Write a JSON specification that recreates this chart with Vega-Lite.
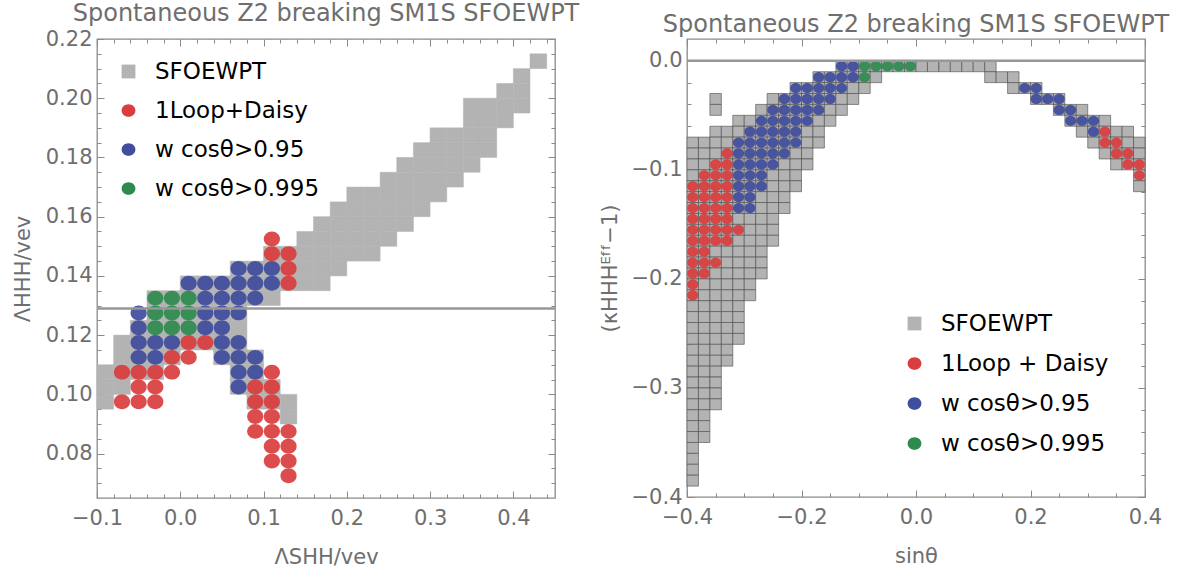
{
"$schema":"https://vega.github.io/schema/vega-lite/v6.json",
"background":"white",
"padding":{"left":11,"top":1,"right":5,"bottom":2},
"spacing":18,
"config":{
 "font":"DejaVu Sans",
 "view":{"stroke":"#8a8a8a","strokeWidth":1.3},
 "axis":{"grid":false,"domain":false,"tickColor":"#8a8a8a","tickWidth":1,"labelFont":"DejaVu Sans","labelFontSize":21,"labelColor":"#6e6e6e","titleFont":"DejaVu Sans","titleFontSize":21,"titleColor":"#6e6e6e","titleFontWeight":"normal","labelFlush":false,"labelOverlap":false},
 "title":{"font":"DejaVu Sans","fontSize":24,"fontWeight":"normal","color":"#6e6e6e","anchor":"middle","frame":"group","offset":2,"baseline":"alphabetic"}
},
"resolve":{"scale":{"x":"independent","y":"independent","color":"independent","shape":"independent"},"legend":{"color":"independent","shape":"independent"}},
"datasets":{
"lcells":[
{"x":-0.09,"y":0.0975},{"x":-0.09,"y":0.1025},{"x":-0.09,"y":0.1075},
{"x":-0.07,"y":0.1025},{"x":-0.07,"y":0.1075},{"x":-0.07,"y":0.1125},{"x":-0.07,"y":0.1175},
{"x":-0.05,"y":0.1075},{"x":-0.05,"y":0.1125},{"x":-0.05,"y":0.1175},{"x":-0.05,"y":0.1225},
{"x":-0.03,"y":0.1075},{"x":-0.03,"y":0.1125},{"x":-0.03,"y":0.1175},{"x":-0.03,"y":0.1225},{"x":-0.03,"y":0.1275},{"x":-0.03,"y":0.1325},
{"x":-0.01,"y":0.1125},{"x":-0.01,"y":0.1175},{"x":-0.01,"y":0.1225},{"x":-0.01,"y":0.1275},{"x":-0.01,"y":0.1325},
{"x":0.01,"y":0.1175},{"x":0.01,"y":0.1225},{"x":0.01,"y":0.1275},{"x":0.01,"y":0.1325},{"x":0.01,"y":0.1375},
{"x":0.03,"y":0.1175},{"x":0.03,"y":0.1225},{"x":0.03,"y":0.1275},{"x":0.03,"y":0.1325},{"x":0.03,"y":0.1375},
{"x":0.05,"y":0.1125},{"x":0.05,"y":0.1175},{"x":0.05,"y":0.1225},{"x":0.05,"y":0.1275},{"x":0.05,"y":0.1325},{"x":0.05,"y":0.1375},
{"x":0.07,"y":0.1025},{"x":0.07,"y":0.1075},{"x":0.07,"y":0.1125},{"x":0.07,"y":0.1175},{"x":0.07,"y":0.1225},{"x":0.07,"y":0.1275},{"x":0.07,"y":0.1325},{"x":0.07,"y":0.1375},{"x":0.07,"y":0.1425},
{"x":0.09,"y":0.0975},{"x":0.09,"y":0.1025},{"x":0.09,"y":0.1075},{"x":0.09,"y":0.1125},{"x":0.09,"y":0.1325},{"x":0.09,"y":0.1375},{"x":0.09,"y":0.1425},
{"x":0.11,"y":0.0975},{"x":0.11,"y":0.1025},{"x":0.11,"y":0.1325},{"x":0.11,"y":0.1375},{"x":0.11,"y":0.1425},{"x":0.11,"y":0.1475},
{"x":0.13,"y":0.0925},{"x":0.13,"y":0.0975},{"x":0.13,"y":0.1375},{"x":0.13,"y":0.1425},{"x":0.13,"y":0.1475},
{"x":0.15,"y":0.1375},{"x":0.15,"y":0.1425},{"x":0.15,"y":0.1475},{"x":0.15,"y":0.1525},
{"x":0.17,"y":0.1375},{"x":0.17,"y":0.1425},{"x":0.17,"y":0.1475},{"x":0.17,"y":0.1525},{"x":0.17,"y":0.1575},
{"x":0.19,"y":0.1425},{"x":0.19,"y":0.1475},{"x":0.19,"y":0.1525},{"x":0.19,"y":0.1575},{"x":0.19,"y":0.1625},
{"x":0.21,"y":0.1475},{"x":0.21,"y":0.1525},{"x":0.21,"y":0.1575},{"x":0.21,"y":0.1625},{"x":0.21,"y":0.1675},
{"x":0.23,"y":0.1475},{"x":0.23,"y":0.1525},{"x":0.23,"y":0.1575},{"x":0.23,"y":0.1625},{"x":0.23,"y":0.1675},
{"x":0.25,"y":0.1525},{"x":0.25,"y":0.1575},{"x":0.25,"y":0.1625},{"x":0.25,"y":0.1675},{"x":0.25,"y":0.1725},
{"x":0.27,"y":0.1575},{"x":0.27,"y":0.1625},{"x":0.27,"y":0.1675},{"x":0.27,"y":0.1725},{"x":0.27,"y":0.1775},
{"x":0.29,"y":0.1625},{"x":0.29,"y":0.1675},{"x":0.29,"y":0.1725},{"x":0.29,"y":0.1775},{"x":0.29,"y":0.1825},
{"x":0.31,"y":0.1675},{"x":0.31,"y":0.1725},{"x":0.31,"y":0.1775},{"x":0.31,"y":0.1825},{"x":0.31,"y":0.1875},
{"x":0.33,"y":0.1725},{"x":0.33,"y":0.1775},{"x":0.33,"y":0.1825},{"x":0.33,"y":0.1875},
{"x":0.35,"y":0.1775},{"x":0.35,"y":0.1825},{"x":0.35,"y":0.1875},{"x":0.35,"y":0.1925},{"x":0.35,"y":0.1975},
{"x":0.37,"y":0.1825},{"x":0.37,"y":0.1875},{"x":0.37,"y":0.1925},{"x":0.37,"y":0.1975},
{"x":0.39,"y":0.1925},{"x":0.39,"y":0.1975},{"x":0.39,"y":0.2025},
{"x":0.41,"y":0.1975},{"x":0.41,"y":0.2025},{"x":0.41,"y":0.2075},
{"x":0.43,"y":0.2125}
],
"lpts":[
{"x":0.11,"y":0.1525,"s":"1Loop+Daisy"},{"x":0.11,"y":0.1475,"s":"1Loop+Daisy"},{"x":0.13,"y":0.1475,"s":"1Loop+Daisy"},{"x":0.13,"y":0.1425,"s":"1Loop+Daisy"},{"x":0.13,"y":0.1375,"s":"1Loop+Daisy"},
{"x":0.01,"y":0.1175,"s":"1Loop+Daisy"},{"x":0.03,"y":0.1175,"s":"1Loop+Daisy"},{"x":-0.01,"y":0.1125,"s":"1Loop+Daisy"},{"x":0.01,"y":0.1125,"s":"1Loop+Daisy"},
{"x":-0.07,"y":0.1075,"s":"1Loop+Daisy"},{"x":-0.05,"y":0.1075,"s":"1Loop+Daisy"},{"x":-0.03,"y":0.1075,"s":"1Loop+Daisy"},{"x":-0.01,"y":0.1075,"s":"1Loop+Daisy"},{"x":0.11,"y":0.1075,"s":"1Loop+Daisy"},
{"x":-0.05,"y":0.1025,"s":"1Loop+Daisy"},{"x":-0.03,"y":0.1025,"s":"1Loop+Daisy"},{"x":0.09,"y":0.1025,"s":"1Loop+Daisy"},{"x":0.11,"y":0.1025,"s":"1Loop+Daisy"},
{"x":-0.07,"y":0.0975,"s":"1Loop+Daisy"},{"x":-0.05,"y":0.0975,"s":"1Loop+Daisy"},{"x":-0.03,"y":0.0975,"s":"1Loop+Daisy"},{"x":0.09,"y":0.0975,"s":"1Loop+Daisy"},{"x":0.11,"y":0.0975,"s":"1Loop+Daisy"},
{"x":0.09,"y":0.0925,"s":"1Loop+Daisy"},{"x":0.11,"y":0.0925,"s":"1Loop+Daisy"},
{"x":0.09,"y":0.0875,"s":"1Loop+Daisy"},{"x":0.11,"y":0.0875,"s":"1Loop+Daisy"},{"x":0.13,"y":0.0875,"s":"1Loop+Daisy"},
{"x":0.11,"y":0.0825,"s":"1Loop+Daisy"},{"x":0.13,"y":0.0825,"s":"1Loop+Daisy"},{"x":0.11,"y":0.0775,"s":"1Loop+Daisy"},{"x":0.13,"y":0.0775,"s":"1Loop+Daisy"},{"x":0.13,"y":0.0725,"s":"1Loop+Daisy"},
{"x":0.07,"y":0.1425,"s":"w cosθ>0.95"},{"x":0.09,"y":0.1425,"s":"w cosθ>0.95"},{"x":0.11,"y":0.1425,"s":"w cosθ>0.95"},
{"x":0.01,"y":0.1375,"s":"w cosθ>0.95"},{"x":0.03,"y":0.1375,"s":"w cosθ>0.95"},{"x":0.05,"y":0.1375,"s":"w cosθ>0.95"},{"x":0.07,"y":0.1375,"s":"w cosθ>0.95"},{"x":0.09,"y":0.1375,"s":"w cosθ>0.95"},{"x":0.11,"y":0.1375,"s":"w cosθ>0.95"},
{"x":0.03,"y":0.1325,"s":"w cosθ>0.95"},{"x":0.05,"y":0.1325,"s":"w cosθ>0.95"},{"x":0.07,"y":0.1325,"s":"w cosθ>0.95"},{"x":0.09,"y":0.1325,"s":"w cosθ>0.95"},
{"x":-0.05,"y":0.1275,"s":"w cosθ>0.95"},{"x":0.03,"y":0.1275,"s":"w cosθ>0.95"},{"x":0.05,"y":0.1275,"s":"w cosθ>0.95"},{"x":0.07,"y":0.1275,"s":"w cosθ>0.95"},
{"x":-0.05,"y":0.1225,"s":"w cosθ>0.95"},{"x":0.03,"y":0.1225,"s":"w cosθ>0.95"},{"x":0.05,"y":0.1225,"s":"w cosθ>0.95"},
{"x":-0.05,"y":0.1175,"s":"w cosθ>0.95"},{"x":-0.03,"y":0.1175,"s":"w cosθ>0.95"},{"x":-0.01,"y":0.1175,"s":"w cosθ>0.95"},{"x":0.05,"y":0.1175,"s":"w cosθ>0.95"},{"x":0.07,"y":0.1175,"s":"w cosθ>0.95"},
{"x":-0.05,"y":0.1125,"s":"w cosθ>0.95"},{"x":-0.03,"y":0.1125,"s":"w cosθ>0.95"},{"x":0.05,"y":0.1125,"s":"w cosθ>0.95"},{"x":0.07,"y":0.1125,"s":"w cosθ>0.95"},{"x":0.09,"y":0.1125,"s":"w cosθ>0.95"},
{"x":0.07,"y":0.1075,"s":"w cosθ>0.95"},{"x":0.09,"y":0.1075,"s":"w cosθ>0.95"},{"x":0.07,"y":0.1025,"s":"w cosθ>0.95"},
{"x":-0.03,"y":0.1325,"s":"w cosθ>0.995"},{"x":-0.01,"y":0.1325,"s":"w cosθ>0.995"},{"x":0.01,"y":0.1325,"s":"w cosθ>0.995"},
{"x":-0.03,"y":0.1275,"s":"w cosθ>0.995"},{"x":-0.01,"y":0.1275,"s":"w cosθ>0.995"},{"x":0.01,"y":0.1275,"s":"w cosθ>0.995"},
{"x":-0.03,"y":0.1225,"s":"w cosθ>0.995"},{"x":-0.01,"y":0.1225,"s":"w cosθ>0.995"},{"x":0.01,"y":0.1225,"s":"w cosθ>0.995"}
],
"rcells":[
{"x":-0.39,"y":-0.075},{"x":-0.39,"y":-0.085},{"x":-0.39,"y":-0.095},{"x":-0.39,"y":-0.105},{"x":-0.39,"y":-0.115},{"x":-0.39,"y":-0.125},{"x":-0.39,"y":-0.135},{"x":-0.39,"y":-0.145},{"x":-0.39,"y":-0.155},{"x":-0.39,"y":-0.165},{"x":-0.39,"y":-0.175},{"x":-0.39,"y":-0.185},{"x":-0.39,"y":-0.195},{"x":-0.39,"y":-0.205},{"x":-0.39,"y":-0.215},{"x":-0.39,"y":-0.225},{"x":-0.39,"y":-0.235},{"x":-0.39,"y":-0.245},{"x":-0.39,"y":-0.255},{"x":-0.39,"y":-0.265},{"x":-0.39,"y":-0.275},{"x":-0.39,"y":-0.285},{"x":-0.39,"y":-0.295},{"x":-0.39,"y":-0.305},{"x":-0.39,"y":-0.315},{"x":-0.39,"y":-0.325},{"x":-0.39,"y":-0.335},{"x":-0.39,"y":-0.345},{"x":-0.39,"y":-0.355},{"x":-0.39,"y":-0.365},{"x":-0.39,"y":-0.375},{"x":-0.39,"y":-0.385},
{"x":-0.37,"y":-0.075},{"x":-0.37,"y":-0.085},{"x":-0.37,"y":-0.095},{"x":-0.37,"y":-0.105},{"x":-0.37,"y":-0.115},{"x":-0.37,"y":-0.125},{"x":-0.37,"y":-0.135},{"x":-0.37,"y":-0.145},{"x":-0.37,"y":-0.155},{"x":-0.37,"y":-0.165},{"x":-0.37,"y":-0.175},{"x":-0.37,"y":-0.185},{"x":-0.37,"y":-0.195},{"x":-0.37,"y":-0.205},{"x":-0.37,"y":-0.215},{"x":-0.37,"y":-0.225},{"x":-0.37,"y":-0.235},{"x":-0.37,"y":-0.245},{"x":-0.37,"y":-0.255},{"x":-0.37,"y":-0.265},{"x":-0.37,"y":-0.275},{"x":-0.37,"y":-0.285},{"x":-0.37,"y":-0.295},{"x":-0.37,"y":-0.305},{"x":-0.37,"y":-0.315},{"x":-0.37,"y":-0.325},{"x":-0.37,"y":-0.335},{"x":-0.37,"y":-0.345},
{"x":-0.35,"y":-0.035},{"x":-0.35,"y":-0.045},{"x":-0.35,"y":-0.065},{"x":-0.35,"y":-0.075},{"x":-0.35,"y":-0.085},{"x":-0.35,"y":-0.095},{"x":-0.35,"y":-0.105},{"x":-0.35,"y":-0.115},{"x":-0.35,"y":-0.125},{"x":-0.35,"y":-0.135},{"x":-0.35,"y":-0.145},{"x":-0.35,"y":-0.155},{"x":-0.35,"y":-0.165},{"x":-0.35,"y":-0.175},{"x":-0.35,"y":-0.185},{"x":-0.35,"y":-0.195},{"x":-0.35,"y":-0.205},{"x":-0.35,"y":-0.215},{"x":-0.35,"y":-0.225},{"x":-0.35,"y":-0.235},{"x":-0.35,"y":-0.245},{"x":-0.35,"y":-0.255},{"x":-0.35,"y":-0.265},{"x":-0.35,"y":-0.275},{"x":-0.35,"y":-0.285},{"x":-0.35,"y":-0.295},{"x":-0.35,"y":-0.305},{"x":-0.35,"y":-0.315},
{"x":-0.33,"y":-0.065},{"x":-0.33,"y":-0.075},{"x":-0.33,"y":-0.085},{"x":-0.33,"y":-0.095},{"x":-0.33,"y":-0.105},{"x":-0.33,"y":-0.115},{"x":-0.33,"y":-0.125},{"x":-0.33,"y":-0.135},{"x":-0.33,"y":-0.145},{"x":-0.33,"y":-0.155},{"x":-0.33,"y":-0.165},{"x":-0.33,"y":-0.175},{"x":-0.33,"y":-0.185},{"x":-0.33,"y":-0.195},{"x":-0.33,"y":-0.205},{"x":-0.33,"y":-0.215},{"x":-0.33,"y":-0.225},{"x":-0.33,"y":-0.235},{"x":-0.33,"y":-0.245},{"x":-0.33,"y":-0.255},{"x":-0.33,"y":-0.265},{"x":-0.33,"y":-0.275},
{"x":-0.31,"y":-0.055},{"x":-0.31,"y":-0.065},{"x":-0.31,"y":-0.075},{"x":-0.31,"y":-0.085},{"x":-0.31,"y":-0.095},{"x":-0.31,"y":-0.105},{"x":-0.31,"y":-0.115},{"x":-0.31,"y":-0.125},{"x":-0.31,"y":-0.135},{"x":-0.31,"y":-0.145},{"x":-0.31,"y":-0.155},{"x":-0.31,"y":-0.165},{"x":-0.31,"y":-0.175},{"x":-0.31,"y":-0.185},{"x":-0.31,"y":-0.195},{"x":-0.31,"y":-0.205},{"x":-0.31,"y":-0.215},{"x":-0.31,"y":-0.225},{"x":-0.31,"y":-0.235},{"x":-0.31,"y":-0.245},{"x":-0.31,"y":-0.255},
{"x":-0.29,"y":-0.055},{"x":-0.29,"y":-0.065},{"x":-0.29,"y":-0.075},{"x":-0.29,"y":-0.085},{"x":-0.29,"y":-0.095},{"x":-0.29,"y":-0.105},{"x":-0.29,"y":-0.115},{"x":-0.29,"y":-0.125},{"x":-0.29,"y":-0.135},{"x":-0.29,"y":-0.145},{"x":-0.29,"y":-0.155},{"x":-0.29,"y":-0.165},{"x":-0.29,"y":-0.175},{"x":-0.29,"y":-0.185},{"x":-0.29,"y":-0.195},{"x":-0.29,"y":-0.205},{"x":-0.29,"y":-0.215},
{"x":-0.27,"y":-0.045},{"x":-0.27,"y":-0.055},{"x":-0.27,"y":-0.065},{"x":-0.27,"y":-0.075},{"x":-0.27,"y":-0.085},{"x":-0.27,"y":-0.095},{"x":-0.27,"y":-0.105},{"x":-0.27,"y":-0.115},{"x":-0.27,"y":-0.125},{"x":-0.27,"y":-0.135},{"x":-0.27,"y":-0.145},{"x":-0.27,"y":-0.155},{"x":-0.27,"y":-0.165},{"x":-0.27,"y":-0.175},{"x":-0.27,"y":-0.185},{"x":-0.27,"y":-0.195},
{"x":-0.25,"y":-0.035},{"x":-0.25,"y":-0.045},{"x":-0.25,"y":-0.055},{"x":-0.25,"y":-0.065},{"x":-0.25,"y":-0.075},{"x":-0.25,"y":-0.085},{"x":-0.25,"y":-0.095},{"x":-0.25,"y":-0.105},{"x":-0.25,"y":-0.115},{"x":-0.25,"y":-0.125},{"x":-0.25,"y":-0.135},{"x":-0.25,"y":-0.145},{"x":-0.25,"y":-0.155},{"x":-0.25,"y":-0.165},
{"x":-0.23,"y":-0.035},{"x":-0.23,"y":-0.045},{"x":-0.23,"y":-0.055},{"x":-0.23,"y":-0.065},{"x":-0.23,"y":-0.075},{"x":-0.23,"y":-0.085},{"x":-0.23,"y":-0.095},{"x":-0.23,"y":-0.105},{"x":-0.23,"y":-0.115},{"x":-0.23,"y":-0.125},{"x":-0.23,"y":-0.135},
{"x":-0.21,"y":-0.025},{"x":-0.21,"y":-0.035},{"x":-0.21,"y":-0.045},{"x":-0.21,"y":-0.055},{"x":-0.21,"y":-0.065},{"x":-0.21,"y":-0.075},{"x":-0.21,"y":-0.085},{"x":-0.21,"y":-0.095},{"x":-0.21,"y":-0.105},{"x":-0.21,"y":-0.115},
{"x":-0.19,"y":-0.025},{"x":-0.19,"y":-0.035},{"x":-0.19,"y":-0.045},{"x":-0.19,"y":-0.055},{"x":-0.19,"y":-0.065},{"x":-0.19,"y":-0.075},{"x":-0.19,"y":-0.085},{"x":-0.19,"y":-0.095},
{"x":-0.17,"y":-0.015},{"x":-0.17,"y":-0.025},{"x":-0.17,"y":-0.035},{"x":-0.17,"y":-0.045},{"x":-0.17,"y":-0.055},{"x":-0.17,"y":-0.065},{"x":-0.17,"y":-0.075},
{"x":-0.15,"y":-0.015},{"x":-0.15,"y":-0.025},{"x":-0.15,"y":-0.035},{"x":-0.15,"y":-0.045},{"x":-0.15,"y":-0.055},
{"x":-0.13,"y":-0.005},{"x":-0.13,"y":-0.015},{"x":-0.13,"y":-0.025},{"x":-0.13,"y":-0.035},{"x":-0.13,"y":-0.045},
{"x":-0.11,"y":-0.005},{"x":-0.11,"y":-0.015},{"x":-0.11,"y":-0.025},{"x":-0.11,"y":-0.035},
{"x":-0.09,"y":-0.005},{"x":-0.09,"y":-0.015},{"x":-0.09,"y":-0.025},
{"x":-0.07,"y":-0.005},{"x":-0.07,"y":-0.015},
{"x":-0.05,"y":-0.005},{"x":-0.03,"y":-0.005},{"x":-0.01,"y":-0.005},{"x":0.01,"y":-0.005},{"x":0.03,"y":-0.005},{"x":0.05,"y":-0.005},{"x":0.07,"y":-0.005},{"x":0.09,"y":-0.005},{"x":0.11,"y":-0.005},
{"x":0.13,"y":-0.005},{"x":0.13,"y":-0.015},
{"x":0.15,"y":-0.015},
{"x":0.17,"y":-0.015},{"x":0.17,"y":-0.025},
{"x":0.19,"y":-0.025},
{"x":0.21,"y":-0.025},{"x":0.21,"y":-0.035},
{"x":0.23,"y":-0.035},
{"x":0.25,"y":-0.035},{"x":0.25,"y":-0.045},
{"x":0.27,"y":-0.045},{"x":0.27,"y":-0.055},
{"x":0.29,"y":-0.045},{"x":0.29,"y":-0.055},{"x":0.29,"y":-0.065},
{"x":0.31,"y":-0.055},{"x":0.31,"y":-0.065},{"x":0.31,"y":-0.075},
{"x":0.33,"y":-0.055},{"x":0.33,"y":-0.065},{"x":0.33,"y":-0.075},{"x":0.33,"y":-0.085},
{"x":0.35,"y":-0.065},{"x":0.35,"y":-0.075},{"x":0.35,"y":-0.085},{"x":0.35,"y":-0.095},
{"x":0.37,"y":-0.065},{"x":0.37,"y":-0.075},{"x":0.37,"y":-0.085},{"x":0.37,"y":-0.095},
{"x":0.39,"y":-0.075},{"x":0.39,"y":-0.085},{"x":0.39,"y":-0.095},{"x":0.39,"y":-0.105},{"x":0.39,"y":-0.115}
],
"rpts":[
{"x":-0.33,"y":-0.085,"s":"1Loop + Daisy"},
{"x":-0.35,"y":-0.095,"s":"1Loop + Daisy"},{"x":-0.33,"y":-0.095,"s":"1Loop + Daisy"},
{"x":-0.37,"y":-0.105,"s":"1Loop + Daisy"},{"x":-0.35,"y":-0.105,"s":"1Loop + Daisy"},{"x":-0.33,"y":-0.105,"s":"1Loop + Daisy"},
{"x":-0.39,"y":-0.115,"s":"1Loop + Daisy"},{"x":-0.37,"y":-0.115,"s":"1Loop + Daisy"},{"x":-0.35,"y":-0.115,"s":"1Loop + Daisy"},{"x":-0.33,"y":-0.115,"s":"1Loop + Daisy"},
{"x":-0.39,"y":-0.125,"s":"1Loop + Daisy"},{"x":-0.37,"y":-0.125,"s":"1Loop + Daisy"},{"x":-0.35,"y":-0.125,"s":"1Loop + Daisy"},{"x":-0.33,"y":-0.125,"s":"1Loop + Daisy"},
{"x":-0.39,"y":-0.135,"s":"1Loop + Daisy"},{"x":-0.37,"y":-0.135,"s":"1Loop + Daisy"},{"x":-0.35,"y":-0.135,"s":"1Loop + Daisy"},{"x":-0.33,"y":-0.135,"s":"1Loop + Daisy"},
{"x":-0.39,"y":-0.145,"s":"1Loop + Daisy"},{"x":-0.37,"y":-0.145,"s":"1Loop + Daisy"},{"x":-0.35,"y":-0.145,"s":"1Loop + Daisy"},{"x":-0.33,"y":-0.145,"s":"1Loop + Daisy"},
{"x":-0.39,"y":-0.155,"s":"1Loop + Daisy"},{"x":-0.37,"y":-0.155,"s":"1Loop + Daisy"},{"x":-0.35,"y":-0.155,"s":"1Loop + Daisy"},{"x":-0.33,"y":-0.155,"s":"1Loop + Daisy"},{"x":-0.31,"y":-0.155,"s":"1Loop + Daisy"},
{"x":-0.39,"y":-0.165,"s":"1Loop + Daisy"},{"x":-0.37,"y":-0.165,"s":"1Loop + Daisy"},{"x":-0.35,"y":-0.165,"s":"1Loop + Daisy"},{"x":-0.33,"y":-0.165,"s":"1Loop + Daisy"},
{"x":-0.39,"y":-0.175,"s":"1Loop + Daisy"},{"x":-0.37,"y":-0.175,"s":"1Loop + Daisy"},
{"x":-0.39,"y":-0.185,"s":"1Loop + Daisy"},{"x":-0.37,"y":-0.185,"s":"1Loop + Daisy"},{"x":-0.35,"y":-0.185,"s":"1Loop + Daisy"},
{"x":-0.39,"y":-0.195,"s":"1Loop + Daisy"},{"x":-0.37,"y":-0.195,"s":"1Loop + Daisy"},
{"x":-0.39,"y":-0.205,"s":"1Loop + Daisy"},{"x":-0.39,"y":-0.215,"s":"1Loop + Daisy"},
{"x":0.33,"y":-0.065,"s":"1Loop + Daisy"},{"x":0.33,"y":-0.075,"s":"1Loop + Daisy"},{"x":0.35,"y":-0.075,"s":"1Loop + Daisy"},{"x":0.35,"y":-0.085,"s":"1Loop + Daisy"},{"x":0.37,"y":-0.085,"s":"1Loop + Daisy"},{"x":0.37,"y":-0.095,"s":"1Loop + Daisy"},{"x":0.39,"y":-0.095,"s":"1Loop + Daisy"},{"x":0.39,"y":-0.105,"s":"1Loop + Daisy"},
{"x":-0.13,"y":-0.005,"s":"w cosθ>0.95"},{"x":-0.11,"y":-0.005,"s":"w cosθ>0.95"},
{"x":-0.17,"y":-0.015,"s":"w cosθ>0.95"},{"x":-0.15,"y":-0.015,"s":"w cosθ>0.95"},{"x":-0.13,"y":-0.015,"s":"w cosθ>0.95"},{"x":-0.11,"y":-0.015,"s":"w cosθ>0.95"},
{"x":-0.21,"y":-0.025,"s":"w cosθ>0.95"},{"x":-0.19,"y":-0.025,"s":"w cosθ>0.95"},{"x":-0.17,"y":-0.025,"s":"w cosθ>0.95"},{"x":-0.15,"y":-0.025,"s":"w cosθ>0.95"},{"x":-0.13,"y":-0.025,"s":"w cosθ>0.95"},
{"x":-0.23,"y":-0.035,"s":"w cosθ>0.95"},{"x":-0.21,"y":-0.035,"s":"w cosθ>0.95"},{"x":-0.19,"y":-0.035,"s":"w cosθ>0.95"},{"x":-0.17,"y":-0.035,"s":"w cosθ>0.95"},{"x":-0.15,"y":-0.035,"s":"w cosθ>0.95"},
{"x":-0.25,"y":-0.045,"s":"w cosθ>0.95"},{"x":-0.23,"y":-0.045,"s":"w cosθ>0.95"},{"x":-0.21,"y":-0.045,"s":"w cosθ>0.95"},{"x":-0.19,"y":-0.045,"s":"w cosθ>0.95"},{"x":-0.17,"y":-0.045,"s":"w cosθ>0.95"},
{"x":-0.27,"y":-0.055,"s":"w cosθ>0.95"},{"x":-0.25,"y":-0.055,"s":"w cosθ>0.95"},{"x":-0.23,"y":-0.055,"s":"w cosθ>0.95"},{"x":-0.21,"y":-0.055,"s":"w cosθ>0.95"},{"x":-0.19,"y":-0.055,"s":"w cosθ>0.95"},
{"x":-0.29,"y":-0.065,"s":"w cosθ>0.95"},{"x":-0.27,"y":-0.065,"s":"w cosθ>0.95"},{"x":-0.25,"y":-0.065,"s":"w cosθ>0.95"},{"x":-0.23,"y":-0.065,"s":"w cosθ>0.95"},{"x":-0.21,"y":-0.065,"s":"w cosθ>0.95"},
{"x":-0.31,"y":-0.075,"s":"w cosθ>0.95"},{"x":-0.29,"y":-0.075,"s":"w cosθ>0.95"},{"x":-0.27,"y":-0.075,"s":"w cosθ>0.95"},{"x":-0.25,"y":-0.075,"s":"w cosθ>0.95"},{"x":-0.23,"y":-0.075,"s":"w cosθ>0.95"},{"x":-0.21,"y":-0.075,"s":"w cosθ>0.95"},
{"x":-0.31,"y":-0.085,"s":"w cosθ>0.95"},{"x":-0.29,"y":-0.085,"s":"w cosθ>0.95"},{"x":-0.27,"y":-0.085,"s":"w cosθ>0.95"},{"x":-0.25,"y":-0.085,"s":"w cosθ>0.95"},{"x":-0.23,"y":-0.085,"s":"w cosθ>0.95"},
{"x":-0.31,"y":-0.095,"s":"w cosθ>0.95"},{"x":-0.29,"y":-0.095,"s":"w cosθ>0.95"},{"x":-0.27,"y":-0.095,"s":"w cosθ>0.95"},{"x":-0.25,"y":-0.095,"s":"w cosθ>0.95"},
{"x":-0.31,"y":-0.105,"s":"w cosθ>0.95"},{"x":-0.29,"y":-0.105,"s":"w cosθ>0.95"},{"x":-0.27,"y":-0.105,"s":"w cosθ>0.95"},
{"x":-0.31,"y":-0.115,"s":"w cosθ>0.95"},{"x":-0.29,"y":-0.115,"s":"w cosθ>0.95"},{"x":-0.27,"y":-0.115,"s":"w cosθ>0.95"},
{"x":-0.31,"y":-0.125,"s":"w cosθ>0.95"},{"x":-0.29,"y":-0.125,"s":"w cosθ>0.95"},
{"x":-0.31,"y":-0.135,"s":"w cosθ>0.95"},{"x":-0.29,"y":-0.135,"s":"w cosθ>0.95"},
{"x":0.19,"y":-0.025,"s":"w cosθ>0.95"},{"x":0.21,"y":-0.025,"s":"w cosθ>0.95"},
{"x":0.21,"y":-0.035,"s":"w cosθ>0.95"},{"x":0.23,"y":-0.035,"s":"w cosθ>0.95"},{"x":0.25,"y":-0.035,"s":"w cosθ>0.95"},
{"x":0.25,"y":-0.045,"s":"w cosθ>0.95"},{"x":0.27,"y":-0.045,"s":"w cosθ>0.95"},
{"x":0.27,"y":-0.055,"s":"w cosθ>0.95"},{"x":0.29,"y":-0.055,"s":"w cosθ>0.95"},{"x":0.31,"y":-0.055,"s":"w cosθ>0.95"},
{"x":0.31,"y":-0.065,"s":"w cosθ>0.95"},
{"x":-0.09,"y":-0.005,"s":"w cosθ>0.995"},{"x":-0.07,"y":-0.005,"s":"w cosθ>0.995"},{"x":-0.05,"y":-0.005,"s":"w cosθ>0.995"},{"x":-0.03,"y":-0.005,"s":"w cosθ>0.995"},{"x":-0.01,"y":-0.005,"s":"w cosθ>0.995"},
{"x":-0.09,"y":-0.015,"s":"w cosθ>0.995"}
]
},
"hconcat":[
{
 "title":"Spontaneous Z2 breaking SM1S SFOEWPT",
 "width":458,"height":459,
 "resolve":{"axis":{"x":"independent","y":"independent"}},
 "layer":[
  {"data":{"name":"lcells"},
   "mark":{"type":"point","shape":"M-1,-0.888H1V0.888H-1Z","size":278,"filled":true,"fill":"#b3b3b3","stroke":"#b3b3b3","strokeWidth":0.5,"opacity":1},
   "encoding":{
    "x":{"field":"x","type":"quantitative","scale":{"domain":[-0.1,0.45],"nice":false,"zero":false},"axis":{"orient":"bottom","values":[-0.1,0,0.1,0.2,0.3,0.4],"format":".1f","tickSize":-7,"labelPadding":16,"title":"ΛSHH/vev","titlePadding":18}},
    "y":{"field":"y","type":"quantitative","scale":{"domain":[0.065,0.22],"nice":false,"zero":false},"axis":{"orient":"left","values":[0.08,0.1,0.12,0.14,0.16,0.18,0.2,0.22],"format":".2f","tickSize":-7,"labelPadding":12,"title":"ΛHHH/vev","titlePadding":12}}
   }},
  {"data":{"name":"lpts"},"transform":[{"filter":{"field":"s","equal":"1Loop+Daisy"}}],
   "mark":{"type":"point","filled":true,"size":262,"opacity":0.92},
   "encoding":{
    "x":{"field":"x","type":"quantitative","scale":{"domain":[-0.1,0.45],"nice":false,"zero":false},"axis":{"orient":"bottom","values":[-0.08,-0.06,-0.04,-0.02,0.02,0.04,0.06,0.08,0.12,0.14,0.16,0.18,0.22,0.24,0.26,0.28,0.32,0.34,0.36,0.38,0.42,0.44],"labels":false,"tickSize":-4,"title":null}},
    "y":{"field":"y","type":"quantitative","scale":{"domain":[0.065,0.22],"nice":false,"zero":false},"axis":{"orient":"left","values":[0.07,0.075,0.085,0.09,0.095,0.105,0.11,0.115,0.125,0.13,0.135,0.145,0.15,0.155,0.165,0.17,0.175,0.185,0.19,0.195,0.205,0.21,0.215],"labels":false,"tickSize":-4,"title":null}},
    "color":{"field":"s","type":"nominal","scale":{"domain":["SFOEWPT","1Loop+Daisy","w cosθ>0.95","w cosθ>0.995"],"range":["#b3b3b3","#d93d3d","#3f4d9c","#2f8a4f"]},"legend":{"title":null,"orient":"none","legendX":20,"legendY":21,"labelFont":"DejaVu Sans","labelFontSize":23,"labelColor":"#000000","symbolSize":190,"symbolStrokeColor":"#7a7a7a","symbolStrokeWidth":1.2,"symbolOpacity":1,"rowPadding":15,"labelOffset":15,"padding":0,"labelLimit":400}},
    "shape":{"field":"s","type":"nominal","scale":{"domain":["SFOEWPT","1Loop+Daisy","w cosθ>0.95","w cosθ>0.995"],"range":["square","M-1,0A1,0.92,0,1,1,1,0A1,0.92,0,1,1,-1,0Z","M-1,0A1,0.92,0,1,1,1,0A1,0.92,0,1,1,-1,0Z","M-1,0A1,0.92,0,1,1,1,0A1,0.92,0,1,1,-1,0Z"]},"legend":{"title":null,"orient":"none","legendX":20,"legendY":21,"labelFont":"DejaVu Sans","labelFontSize":23,"labelColor":"#000000","symbolSize":190,"symbolStrokeColor":"#7a7a7a","symbolStrokeWidth":1.2,"symbolOpacity":1,"rowPadding":15,"labelOffset":15,"padding":0,"labelLimit":400}}
   }},
  {"data":{"name":"lpts"},"transform":[{"filter":{"field":"s","equal":"w cosθ>0.95"}}],
   "mark":{"type":"point","filled":true,"size":262,"opacity":0.92},
   "encoding":{
    "x":{"field":"x","type":"quantitative","scale":{"domain":[-0.1,0.45],"nice":false,"zero":false},"axis":{"orient":"top","values":[-0.1,0,0.1,0.2,0.3,0.4],"labels":false,"tickSize":-7,"title":null}},
    "y":{"field":"y","type":"quantitative","scale":{"domain":[0.065,0.22],"nice":false,"zero":false},"axis":{"orient":"right","values":[0.08,0.1,0.12,0.14,0.16,0.18,0.2,0.22],"labels":false,"tickSize":-7,"title":null}},
    "color":{"field":"s","type":"nominal","scale":{"domain":["SFOEWPT","1Loop+Daisy","w cosθ>0.95","w cosθ>0.995"],"range":["#b3b3b3","#d93d3d","#3f4d9c","#2f8a4f"]},"legend":{"title":null,"orient":"none","legendX":20,"legendY":21,"labelFont":"DejaVu Sans","labelFontSize":23,"labelColor":"#000000","symbolSize":190,"symbolStrokeColor":"#7a7a7a","symbolStrokeWidth":1.2,"symbolOpacity":1,"rowPadding":15,"labelOffset":15,"padding":0,"labelLimit":400}},
    "shape":{"field":"s","type":"nominal","scale":{"domain":["SFOEWPT","1Loop+Daisy","w cosθ>0.95","w cosθ>0.995"],"range":["square","M-1,0A1,0.92,0,1,1,1,0A1,0.92,0,1,1,-1,0Z","M-1,0A1,0.92,0,1,1,1,0A1,0.92,0,1,1,-1,0Z","M-1,0A1,0.92,0,1,1,1,0A1,0.92,0,1,1,-1,0Z"]},"legend":{"title":null,"orient":"none","legendX":20,"legendY":21,"labelFont":"DejaVu Sans","labelFontSize":23,"labelColor":"#000000","symbolSize":190,"symbolStrokeColor":"#7a7a7a","symbolStrokeWidth":1.2,"symbolOpacity":1,"rowPadding":15,"labelOffset":15,"padding":0,"labelLimit":400}}
   }},
  {"data":{"name":"lpts"},"transform":[{"filter":{"field":"s","equal":"w cosθ>0.995"}}],
   "mark":{"type":"point","filled":true,"size":262,"opacity":0.92},
   "encoding":{
    "x":{"field":"x","type":"quantitative","scale":{"domain":[-0.1,0.45],"nice":false,"zero":false},"axis":{"orient":"top","values":[-0.08,-0.06,-0.04,-0.02,0.02,0.04,0.06,0.08,0.12,0.14,0.16,0.18,0.22,0.24,0.26,0.28,0.32,0.34,0.36,0.38,0.42,0.44],"labels":false,"tickSize":-4,"title":null}},
    "y":{"field":"y","type":"quantitative","scale":{"domain":[0.065,0.22],"nice":false,"zero":false},"axis":{"orient":"right","values":[0.07,0.075,0.085,0.09,0.095,0.105,0.11,0.115,0.125,0.13,0.135,0.145,0.15,0.155,0.165,0.17,0.175,0.185,0.19,0.195,0.205,0.21,0.215],"labels":false,"tickSize":-4,"title":null}},
    "color":{"field":"s","type":"nominal","scale":{"domain":["SFOEWPT","1Loop+Daisy","w cosθ>0.95","w cosθ>0.995"],"range":["#b3b3b3","#d93d3d","#3f4d9c","#2f8a4f"]},"legend":{"title":null,"orient":"none","legendX":20,"legendY":21,"labelFont":"DejaVu Sans","labelFontSize":23,"labelColor":"#000000","symbolSize":190,"symbolStrokeColor":"#7a7a7a","symbolStrokeWidth":1.2,"symbolOpacity":1,"rowPadding":15,"labelOffset":15,"padding":0,"labelLimit":400}},
    "shape":{"field":"s","type":"nominal","scale":{"domain":["SFOEWPT","1Loop+Daisy","w cosθ>0.95","w cosθ>0.995"],"range":["square","M-1,0A1,0.92,0,1,1,1,0A1,0.92,0,1,1,-1,0Z","M-1,0A1,0.92,0,1,1,1,0A1,0.92,0,1,1,-1,0Z","M-1,0A1,0.92,0,1,1,1,0A1,0.92,0,1,1,-1,0Z"]},"legend":{"title":null,"orient":"none","legendX":20,"legendY":21,"labelFont":"DejaVu Sans","labelFontSize":23,"labelColor":"#000000","symbolSize":190,"symbolStrokeColor":"#7a7a7a","symbolStrokeWidth":1.2,"symbolOpacity":1,"rowPadding":15,"labelOffset":15,"padding":0,"labelLimit":400}}
   }},
  {"data":{"values":[{"y":0.129}]},
   "mark":{"type":"rule","color":"#979797","strokeWidth":2.5},
   "encoding":{"y":{"field":"y","type":"quantitative","scale":{"domain":[0.065,0.22],"nice":false,"zero":false},"axis":null}}}
 ]
},
{
 "title":"Spontaneous Z2 breaking SM1S SFOEWPT",
 "width":458,"height":458,
 "resolve":{"axis":{"x":"independent","y":"independent"}},
 "layer":[
  {"data":{"name":"rcells"},
   "mark":{"type":"point","shape":"M-1,-0.955H1V0.955H-1Z","size":131,"filled":true,"fill":"#b3b3b3","stroke":"#4a4a4a","strokeWidth":0.6,"opacity":1},
   "encoding":{
    "x":{"field":"x","type":"quantitative","scale":{"domain":[-0.4,0.4],"nice":false,"zero":false},"axis":{"orient":"bottom","values":[-0.4,-0.2,0,0.2,0.4],"format":".1f","tickSize":-7,"labelPadding":16,"title":"sinθ","titlePadding":18}},
    "y":{"field":"y","type":"quantitative","scale":{"domain":[-0.4,0.02],"nice":false,"zero":false},"axis":{"orient":"left","values":[-0.4,-0.3,-0.2,-0.1,0],"format":".1f","tickSize":-7,"labelPadding":12,"title":"(κHHHᴱᶠᶠ−1)","titlePadding":11}}
   }},
  {"data":{"name":"rpts"},"transform":[{"filter":{"field":"s","equal":"1Loop + Daisy"}}],
   "mark":{"type":"point","filled":true,"size":125,"opacity":0.92},
   "encoding":{
    "x":{"field":"x","type":"quantitative","scale":{"domain":[-0.4,0.4],"nice":false,"zero":false},"axis":{"orient":"bottom","values":[-0.35,-0.3,-0.25,-0.15,-0.1,-0.05,0.05,0.1,0.15,0.25,0.3,0.35],"labels":false,"tickSize":-4,"title":null}},
    "y":{"field":"y","type":"quantitative","scale":{"domain":[-0.4,0.02],"nice":false,"zero":false},"axis":{"orient":"left","values":[-0.38,-0.36,-0.34,-0.32,-0.28,-0.26,-0.24,-0.22,-0.18,-0.16,-0.14,-0.12,-0.08,-0.06,-0.04,-0.02],"labels":false,"tickSize":-4,"title":null}},
    "color":{"field":"s","type":"nominal","scale":{"domain":["SFOEWPT","1Loop + Daisy","w cosθ>0.95","w cosθ>0.995"],"range":["#b3b3b3","#d93d3d","#3f4d9c","#2f8a4f"]},"legend":{"title":null,"orient":"none","legendX":216,"legendY":273,"labelFont":"DejaVu Sans","labelFontSize":23,"labelColor":"#000000","symbolSize":190,"symbolStrokeColor":"#7a7a7a","symbolStrokeWidth":1.2,"symbolOpacity":1,"rowPadding":16,"labelOffset":15,"padding":0,"labelLimit":400}},
    "shape":{"field":"s","type":"nominal","scale":{"domain":["SFOEWPT","1Loop + Daisy","w cosθ>0.95","w cosθ>0.995"],"range":["square","M-1,0A1,0.92,0,1,1,1,0A1,0.92,0,1,1,-1,0Z","M-1,0A1,0.92,0,1,1,1,0A1,0.92,0,1,1,-1,0Z","M-1,0A1,0.92,0,1,1,1,0A1,0.92,0,1,1,-1,0Z"]},"legend":{"title":null,"orient":"none","legendX":216,"legendY":273,"labelFont":"DejaVu Sans","labelFontSize":23,"labelColor":"#000000","symbolSize":190,"symbolStrokeColor":"#7a7a7a","symbolStrokeWidth":1.2,"symbolOpacity":1,"rowPadding":16,"labelOffset":15,"padding":0,"labelLimit":400}}
   }},
  {"data":{"name":"rpts"},"transform":[{"filter":{"field":"s","equal":"w cosθ>0.95"}}],
   "mark":{"type":"point","filled":true,"size":125,"opacity":0.92},
   "encoding":{
    "x":{"field":"x","type":"quantitative","scale":{"domain":[-0.4,0.4],"nice":false,"zero":false},"axis":{"orient":"top","values":[-0.4,-0.2,0,0.2,0.4],"labels":false,"tickSize":-7,"title":null}},
    "y":{"field":"y","type":"quantitative","scale":{"domain":[-0.4,0.02],"nice":false,"zero":false},"axis":{"orient":"right","values":[-0.4,-0.3,-0.2,-0.1,0],"labels":false,"tickSize":-7,"title":null}},
    "color":{"field":"s","type":"nominal","scale":{"domain":["SFOEWPT","1Loop + Daisy","w cosθ>0.95","w cosθ>0.995"],"range":["#b3b3b3","#d93d3d","#3f4d9c","#2f8a4f"]},"legend":{"title":null,"orient":"none","legendX":216,"legendY":273,"labelFont":"DejaVu Sans","labelFontSize":23,"labelColor":"#000000","symbolSize":190,"symbolStrokeColor":"#7a7a7a","symbolStrokeWidth":1.2,"symbolOpacity":1,"rowPadding":16,"labelOffset":15,"padding":0,"labelLimit":400}},
    "shape":{"field":"s","type":"nominal","scale":{"domain":["SFOEWPT","1Loop + Daisy","w cosθ>0.95","w cosθ>0.995"],"range":["square","M-1,0A1,0.92,0,1,1,1,0A1,0.92,0,1,1,-1,0Z","M-1,0A1,0.92,0,1,1,1,0A1,0.92,0,1,1,-1,0Z","M-1,0A1,0.92,0,1,1,1,0A1,0.92,0,1,1,-1,0Z"]},"legend":{"title":null,"orient":"none","legendX":216,"legendY":273,"labelFont":"DejaVu Sans","labelFontSize":23,"labelColor":"#000000","symbolSize":190,"symbolStrokeColor":"#7a7a7a","symbolStrokeWidth":1.2,"symbolOpacity":1,"rowPadding":16,"labelOffset":15,"padding":0,"labelLimit":400}}
   }},
  {"data":{"name":"rpts"},"transform":[{"filter":{"field":"s","equal":"w cosθ>0.995"}}],
   "mark":{"type":"point","filled":true,"size":125,"opacity":0.92},
   "encoding":{
    "x":{"field":"x","type":"quantitative","scale":{"domain":[-0.4,0.4],"nice":false,"zero":false},"axis":{"orient":"top","values":[-0.35,-0.3,-0.25,-0.15,-0.1,-0.05,0.05,0.1,0.15,0.25,0.3,0.35],"labels":false,"tickSize":-4,"title":null}},
    "y":{"field":"y","type":"quantitative","scale":{"domain":[-0.4,0.02],"nice":false,"zero":false},"axis":{"orient":"right","values":[-0.38,-0.36,-0.34,-0.32,-0.28,-0.26,-0.24,-0.22,-0.18,-0.16,-0.14,-0.12,-0.08,-0.06,-0.04,-0.02],"labels":false,"tickSize":-4,"title":null}},
    "color":{"field":"s","type":"nominal","scale":{"domain":["SFOEWPT","1Loop + Daisy","w cosθ>0.95","w cosθ>0.995"],"range":["#b3b3b3","#d93d3d","#3f4d9c","#2f8a4f"]},"legend":{"title":null,"orient":"none","legendX":216,"legendY":273,"labelFont":"DejaVu Sans","labelFontSize":23,"labelColor":"#000000","symbolSize":190,"symbolStrokeColor":"#7a7a7a","symbolStrokeWidth":1.2,"symbolOpacity":1,"rowPadding":16,"labelOffset":15,"padding":0,"labelLimit":400}},
    "shape":{"field":"s","type":"nominal","scale":{"domain":["SFOEWPT","1Loop + Daisy","w cosθ>0.95","w cosθ>0.995"],"range":["square","M-1,0A1,0.92,0,1,1,1,0A1,0.92,0,1,1,-1,0Z","M-1,0A1,0.92,0,1,1,1,0A1,0.92,0,1,1,-1,0Z","M-1,0A1,0.92,0,1,1,1,0A1,0.92,0,1,1,-1,0Z"]},"legend":{"title":null,"orient":"none","legendX":216,"legendY":273,"labelFont":"DejaVu Sans","labelFontSize":23,"labelColor":"#000000","symbolSize":190,"symbolStrokeColor":"#7a7a7a","symbolStrokeWidth":1.2,"symbolOpacity":1,"rowPadding":16,"labelOffset":15,"padding":0,"labelLimit":400}}
   }},
  {"data":{"values":[{"y":0}]},
   "mark":{"type":"rule","color":"#979797","strokeWidth":2.5},
   "encoding":{"y":{"field":"y","type":"quantitative","scale":{"domain":[-0.4,0.02],"nice":false,"zero":false},"axis":null}}}
 ]
}
]
}
